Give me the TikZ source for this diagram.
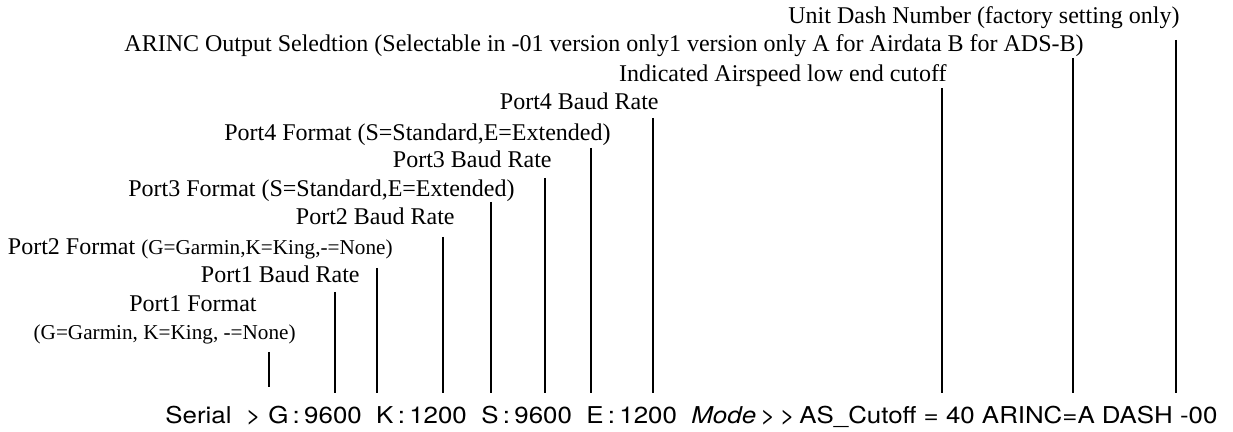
\documentclass[tikz,border=0pt]{standalone}
\usepackage{graphicx}
\usepackage{fontspec}
\setmainfont{Liberation Serif}
\newfontfamily\readoutfont{TeX Gyre Heros}
\newcommand{\hintfont}{\fontsize{10.6}{12}\selectfont}
\usetikzlibrary{positioning}

\begin{document}
\begin{tikzpicture}[x=0.5pt, y=-0.5pt,
            fieldtext/.style={inner sep=0pt, anchor=base east, font=\fontsize{12}{14}\selectfont},
            hinttext/.style={inner sep=0pt, anchor=base east, font=\hintfont},
            fieldline/.style={line width=1.3pt},
            readout/.style={inner sep=0pt, anchor=base west}
        ]
        \useasboundingbox (0,0) rectangle (1233,432);

        % Field captions, top to bottom
        \node[fieldtext] (dash) at (1180,24) {Unit Dash Number (factory setting only)};
        \node[fieldtext] (arinc) at (1084,52) {ARINC Output Seledtion (Selectable in -01 version only1 version only A for Airdata B for ADS-B)};
        \node[fieldtext] (cutoff) at (947,82) {Indicated Airspeed low end cutoff};
        \node[fieldtext] (p4baud) at (659,110) {Port4 Baud Rate};
        \node[fieldtext] (p4fmt) at (611,141) {Port4 Format (S=Standard,E=Extended)};
        \node[fieldtext] (p3baud) at (552,168) {Port3 Baud Rate};
        \node[fieldtext] (p3fmt) at (515,197) {Port3 Format (S=Standard,E=Extended)};
        \node[fieldtext] (p2baud) at (455,225) {Port2 Baud Rate};
        \node[fieldtext] (p2fmt) at (393,255) {Port2 Format {\hintfont(G=Garmin,K=King,-=None)}};
        \node[fieldtext] (p1baud) at (360,283) {Port1 Baud Rate};
        \node[fieldtext] (p1fmt) at (257,312) {Port1 Format};
        \node[hinttext] (p1hint) at (296,340) {(G=Garmin, K=King, -=None)};

        % Serial readout
        \node[readout] (serial) at (165,424) {\resizebox{526pt}{\height}{\readoutfont\fontsize{11.6}{13}\selectfont Serial~~>~G\,:\,9600~~K\,:\,1200~~S\,:\,9600~~E\,:\,1200~~\textit{Mode}\,>\,>\,AS\_Cutoff = 40 ARINC=A DASH -00}};

        % Line ends
        \coordinate (p1fmttop) at (269,352);   \coordinate (p1fmtbot) at (269,387);
        \coordinate (p1baudtop) at (335,292);  \coordinate (p1baudbot) at (335,393);
        \coordinate (p2fmttop) at (377,268);   \coordinate (p2fmtbot) at (377,393);
        \coordinate (p2baudtop) at (443,237);  \coordinate (p2baudbot) at (443,393);
        \coordinate (p3fmttop) at (491,202);   \coordinate (p3fmtbot) at (491,393);
        \coordinate (p3baudtop) at (545,178);  \coordinate (p3baudbot) at (545,393);
        \coordinate (p4fmttop) at (591,148);   \coordinate (p4fmtbot) at (591,393);
        \coordinate (p4baudtop) at (653,118);  \coordinate (p4baudbot) at (653,393);
        \coordinate (cutofftop) at (942,88);   \coordinate (cutoffbot) at (942,393);
        \coordinate (arinctop) at (1073,58);   \coordinate (arincbot) at (1073,393);
        \coordinate (dashtop) at (1176,40);    \coordinate (dashbot) at (1176,393);

        % Pointer lines
        \draw[fieldline] (p1fmttop) -- (p1fmtbot);
        \draw[fieldline] (p1baudtop) -- (p1baudbot);
        \draw[fieldline] (p2fmttop) -- (p2fmtbot);
        \draw[fieldline] (p2baudtop) -- (p2baudbot);
        \draw[fieldline] (p3fmttop) -- (p3fmtbot);
        \draw[fieldline] (p3baudtop) -- (p3baudbot);
        \draw[fieldline] (p4fmttop) -- (p4fmtbot);
        \draw[fieldline] (p4baudtop) -- (p4baudbot);
        \draw[fieldline] (cutofftop) -- (cutoffbot);
        \draw[fieldline] (arinctop) -- (arincbot);
        \draw[fieldline] (dashtop) -- (dashbot);

    \end{tikzpicture}
\end{document}
